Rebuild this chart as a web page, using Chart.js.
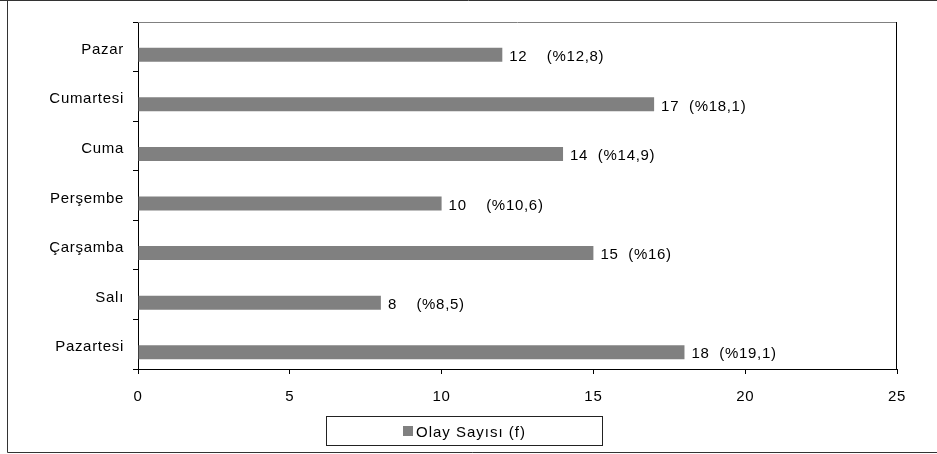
<!DOCTYPE html>
<html>
<head>
<meta charset="utf-8">
<script src="https://cdn.jsdelivr.net/npm/chart.js@4/dist/chart.umd.min.js"></script>
<style>
  body { margin: 0; background: #fff; }
  #wrap { position: relative; width: 937px; height: 454px; }
  #legend {
    position: absolute; left: 326px; top: 416px; width: 275px; height: 28px;
    border: 1px solid #222; display: flex; align-items: center; justify-content: center;
    font: 15px "Liberation Sans", Arial, sans-serif; letter-spacing: 1px; color: #000;
  }
  #legend span.sw { display: inline-block; width: 10px; height: 10px; background: #808080; margin-right: 3px; }
</style>
</head>
<body>
<div id="wrap">
  <canvas id="chart" width="937" height="454"></canvas>
  <div id="legend"><span class="sw"></span><span id="legendText"></span></div>
</div>
<script>
// gunler, grafikte yukaridan asagiya
const days = ['Pazar', 'Cumartesi', 'Cuma', 'Perşembe', 'Çarşamba', 'Salı', 'Pazartesi'];
const counts = [12, 17, 14, 10, 15, 8, 18];
const valueLabels = ['12    (%12,8)', '17  (%18,1)', '14  (%14,9)', '10    (%10,6)', '15  (%16)', '8    (%8,5)', '18  (%19,1)'];
const xTicks = [0, 5, 10, 15, 20, 25];
const seriesName = 'Olay Sayısı (f)';

const FONT = '"Liberation Sans", Arial, sans-serif';
document.getElementById('legendText').textContent = seriesName;

const spacing = {
    id: 'spacing',
    beforeDraw(chart) {
        chart.ctx.letterSpacing = '0.7px';
    }
};

const frame = {
    id: 'frame',
    afterDraw(chart) {
        const ctx = chart.ctx;
        const a = chart.chartArea;
        ctx.save();
        ctx.lineWidth = 1;
        // dis cerceve
        ctx.strokeStyle = '#333';
        ctx.beginPath();
        ctx.moveTo(0, 0.5); ctx.lineTo(937, 0.5);
        ctx.moveTo(7.5, 0); ctx.lineTo(7.5, 452.5);
        ctx.lineTo(937, 452.5);
        ctx.stroke();
        // cizim alani
        ctx.strokeStyle = '#808080';
        ctx.beginPath();
        ctx.moveTo(a.left, a.top + 0.5); ctx.lineTo(a.right, a.top + 0.5);
        ctx.stroke();
        ctx.strokeStyle = '#000';
        ctx.beginPath();
        ctx.moveTo(a.right - 0.5, a.top); ctx.lineTo(a.right - 0.5, a.bottom);
        ctx.stroke();
        ctx.restore();
    }
};

const barLabels = {
    id: 'barLabels',
    afterDatasetsDraw(chart) {
        const ctx = chart.ctx;
        const meta = chart.getDatasetMeta(1);
        ctx.save();
        ctx.font = '15px ' + FONT;
        ctx.fillStyle = '#000';
        ctx.textAlign = 'left';
        ctx.textBaseline = 'middle';
        meta.data.forEach((bar, i) => {
            ctx.fillText(valueLabels[i], bar.x + 7, bar.y + 2);
        });
        ctx.restore();
    }
};

new Chart(document.getElementById('chart'), {
    type: 'bar',
    data: {
        labels: days,
        datasets: [
            { label: '', data: days.map(() => null), backgroundColor: '#808080' },
            { label: seriesName, data: counts, backgroundColor: '#808080', borderWidth: 0 }
        ]
    },
    options: {
        indexAxis: 'y',
        responsive: false,
        animation: false,
        devicePixelRatio: 1,
        categoryPercentage: 0.646,
        barPercentage: 0.875,
        layout: { padding: { left: 0, right: 40, top: 22, bottom: 40 } },
        plugins: {
            legend: { display: false },
            tooltip: { enabled: false }
        },
        scales: {
            x: {
                min: 0,
                max: 25,
                afterBuildTicks: s => { s.ticks = xTicks.map(v => ({ value: v })); },
                afterFit: s => { s.height = 45; },
                grid: { drawOnChartArea: false, tickLength: 5, color: '#000' },
                border: { color: '#000' },
                ticks: { padding: 14, color: '#000', font: { family: FONT, size: 15 } }
            },
            y: {
                offset: true,
                afterFit: s => { s.width = 138; },
                grid: { drawOnChartArea: false, offset: true, tickLength: 5, color: '#000' },
                border: { color: '#000' },
                ticks: { padding: 9, labelOffset: 3, color: '#000', font: { family: FONT, size: 15 } }
            }
        }
    },
    plugins: [spacing, barLabels, frame]
});
</script>
</body>
</html>
